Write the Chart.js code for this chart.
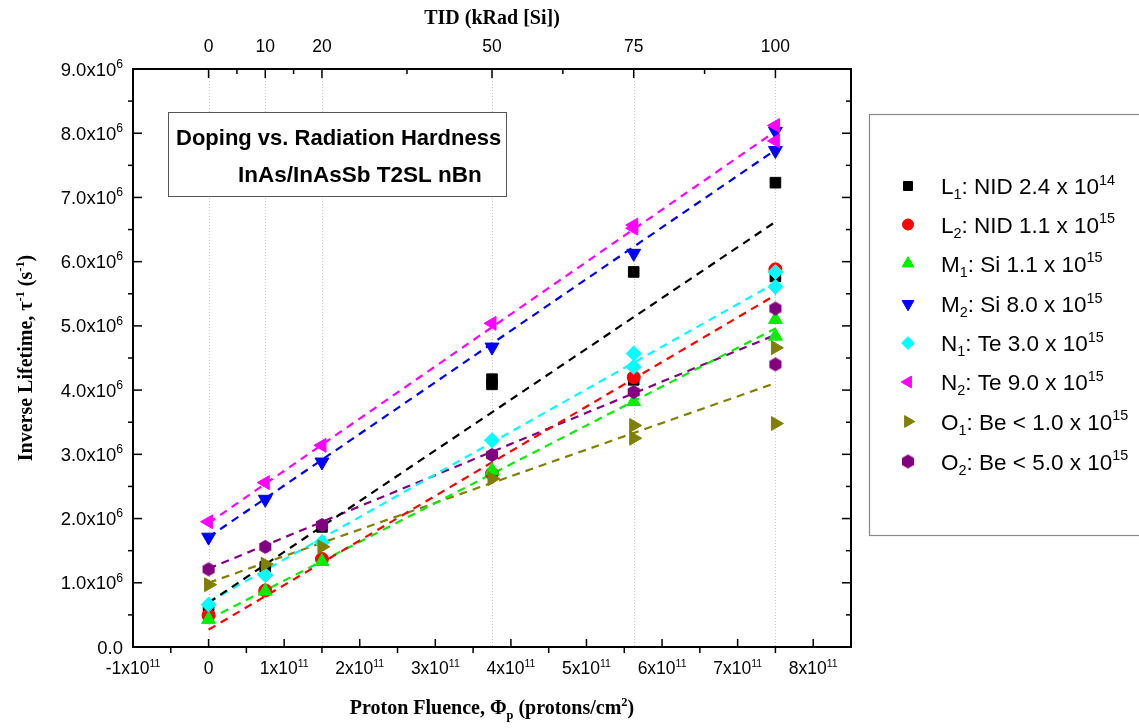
<!DOCTYPE html>
<html>
<head>
<meta charset="utf-8">
<script src="https://cdn.jsdelivr.net/npm/chart.js@4.4.0/dist/chart.umd.min.js"></script>
<style>
  html, body { margin: 0; padding: 0; background: #fff; overflow: hidden; }
  canvas { display: block; }
</style>
</head>
<body>
<canvas id="chart" width="1139" height="728" style="width:1139px;height:728px"></canvas>
<script>
// dose levels (top axis) and the matching proton fluence (bottom axis)
const tidLevels = [0, 10, 20, 50, 75, 100];
const fluenceLevels = [0, 7.5e10, 1.5e11, 3.75e11, 5.625e11, 7.5e11];

// measured inverse lifetimes (s^-1), several samples per dose for some wafers
const l1Tid = [0, 10, 20, 50, 50, 75, 75, 100, 100];
const l1Val = [0.55e6, 1.25e6, 1.87e6, 4.17e6, 4.09e6, 5.84e6, 4.16e6, 7.23e6, 5.77e6];
const l2Tid = [0, 10, 20, 50, 75, 100];
const l2Val = [0.49e6, 0.88e6, 1.37e6, 2.70e6, 4.20e6, 5.88e6];
const m1Tid = [0, 10, 20, 50, 75, 100, 100];
const m1Val = [0.43e6, 0.87e6, 1.33e6, 2.75e6, 3.82e6, 5.10e6, 4.84e6];
const m2Tid = [0, 10, 20, 50, 75, 100, 100];
const m2Val = [1.71e6, 2.30e6, 2.88e6, 4.67e6, 6.13e6, 8.03e6, 7.73e6];
const n1Tid = [0, 10, 20, 50, 75, 75, 100, 100];
const n1Val = [0.66e6, 1.12e6, 1.63e6, 3.22e6, 4.57e6, 4.36e6, 5.84e6, 5.61e6];
const n2Tid = [0, 10, 20, 50, 75, 75, 100, 100];
const n2Val = [1.95e6, 2.56e6, 3.14e6, 5.04e6, 6.57e6, 6.52e6, 8.12e6, 7.88e6];
const o1Tid = [0, 10, 20, 50, 75, 75, 100, 100];
const o1Val = [0.97e6, 1.29e6, 1.56e6, 2.62e6, 3.45e6, 3.25e6, 4.66e6, 3.48e6];
const o2Tid = [0, 10, 20, 50, 75, 100, 100];
const o2Val = [1.21e6, 1.56e6, 1.90e6, 2.99e6, 3.97e6, 5.27e6, 4.40e6];

// linear fit lines, read at TID 0 and TID 100
const fitTid = [0, 100];
const fitL1 = [0.69e6, 6.62e6];
const fitL2 = [0.27e6, 5.48e6];
const fitM1 = [0.43e6, 4.96e6];
const fitM2 = [1.71e6, 7.74e6];
const fitN1 = [0.70e6, 5.67e6];
const fitN2 = [1.93e6, 8.03e6];
const fitO1 = [1.00e6, 4.11e6];
const fitO2 = [1.22e6, 4.86e6];

// legend text ( _{..} subscript, ^{..} superscript )
const seriesLabels = [
  'L_{1}: NID 2.4 x 10^{14}',
  'L_{2}: NID 1.1 x 10^{15}',
  'M_{1}: Si 1.1 x 10^{15}',
  'M_{2}: Si 8.0 x 10^{15}',
  'N_{1}: Te 3.0 x 10^{15}',
  'N_{2}: Te 9.0 x 10^{15}',
  'O_{1}: Be < 1.0 x 10^{15}',
  'O_{2}: Be < 5.0 x 10^{15}'
];

// tick labels
const xTickValues = [-1e11, 0, 1e11, 2e11, 3e11, 4e11, 5e11, 6e11, 7e11, 8e11];
const xTickLabels = ['-1x10^{11}', '0', '1x10^{11}', '2x10^{11}', '3x10^{11}', '4x10^{11}',
  '5x10^{11}', '6x10^{11}', '7x10^{11}', '8x10^{11}'];
const yTickValues = [0, 1e6, 2e6, 3e6, 4e6, 5e6, 6e6, 7e6, 8e6, 9e6];
const yTickLabels = ['0.0', '1.0x10^{6}', '2.0x10^{6}', '3.0x10^{6}', '4.0x10^{6}', '5.0x10^{6}',
  '6.0x10^{6}', '7.0x10^{6}', '8.0x10^{6}', '9.0x10^{6}'];
const tidTicks = [0, 10, 20, 50, 75, 100];
const tidMinor = [5, 15, 35, 62.5, 87.5];

const SANS = '"Liberation Sans", Arial, sans-serif';
const SERIF = '"Liberation Serif", "Times New Roman", serif';

// hexagon marker for the O2 series
function hexMarker(color, r) {
  const c = document.createElement('canvas');
  c.width = c.height = r * 2 + 2;
  const g = c.getContext('2d');
  g.fillStyle = color;
  g.beginPath();
  for (let i = 0; i < 6; i++) {
    const a = Math.PI / 6 + i * Math.PI / 3;
    const px = r + 1 + r * Math.cos(a), py = r + 1 + r * Math.sin(a);
    i ? g.lineTo(px, py) : g.moveTo(px, py);
  }
  g.closePath();
  g.fill();
  return c;
}

const toFluence = t => fluenceLevels[tidLevels.indexOf(t)];
const pts = (tids, vals) => tids.map((t, i) => ({ x: toFluence(t), y: vals[i] }));

const markerSets = [
  { tid: l1Tid, val: l1Val, fit: fitL1, color: '#000000', style: 'rect', rot: 0, r: 7.5 },
  { tid: l2Tid, val: l2Val, fit: fitL2, color: '#ff0000', style: 'circle', rot: 0, r: 6.5 },
  { tid: m1Tid, val: m1Val, fit: fitM1, color: '#00ee00', style: 'triangle', rot: 0, r: 8 },
  { tid: m2Tid, val: m2Val, fit: fitM2, color: '#0000ff', style: 'triangle', rot: 180, r: 8 },
  { tid: n1Tid, val: n1Val, fit: fitN1, color: '#00ffff', style: 'rectRot', rot: 0, r: 7.5 },
  { tid: n2Tid, val: n2Val, fit: fitN2, color: '#ff00ff', style: 'triangle', rot: 270, r: 8 },
  { tid: o1Tid, val: o1Val, fit: fitO1, color: '#808000', style: 'triangle', rot: 90, r: 8 },
  { tid: o2Tid, val: o2Val, fit: fitO2, color: '#800080', style: hexMarker('#800080', 7), rot: 0, r: 7 }
];

const datasets = [];
markerSets.forEach((s, i) => {
  datasets.push({
    label: seriesLabels[i],
    data: pts(s.tid, s.val),
    showLine: false,
    pointStyle: s.style,
    rotation: s.rot,
    pointRadius: s.r,
    backgroundColor: s.color,
    borderColor: s.color,
    borderWidth: 1,
    order: 10 - i
  });
});
markerSets.forEach((s, i) => {
  datasets.push({
    label: 'fit ' + i,
    data: pts(fitTid, s.fit),
    showLine: true,
    pointRadius: 0,
    borderColor: s.color,
    borderWidth: 2.2,
    borderDash: [8, 6],
    fill: false,
    order: 20
  });
});

// --- small rich text helper for sub/superscripts ---
function parseRich(s) {
  const out = [];
  const re = /([\^_])\{([^}]*)\}/g;
  let last = 0, m;
  while ((m = re.exec(s))) {
    if (m.index > last) out.push({ t: s.slice(last, m.index), k: 0 });
    out.push({ t: m[2], k: m[1] === '^' ? 1 : -1 });
    last = re.lastIndex;
  }
  if (last < s.length) out.push({ t: s.slice(last), k: 0 });
  return out;
}

function drawRich(ctx, s, x, y, size, opts) {
  const o = Object.assign({ weight: 'normal', fam: SANS, align: 'left', ratio: 0.62 }, opts);
  const parts = parseRich(s);
  let w = 0;
  parts.forEach(p => {
    ctx.font = `${o.weight} ${p.k ? size * o.ratio : size}px ${o.fam}`;
    w += ctx.measureText(p.t).width;
  });
  let cx = o.align === 'center' ? x - w / 2 : o.align === 'right' ? x - w : x;
  ctx.fillStyle = '#000';
  ctx.textAlign = 'left';
  ctx.textBaseline = 'alphabetic';
  parts.forEach(p => {
    ctx.font = `${o.weight} ${p.k ? size * o.ratio : size}px ${o.fam}`;
    const dy = p.k === 1 ? -size * 0.42 : p.k === -1 ? size * 0.24 : 0;
    ctx.fillText(p.t, cx, y + dy);
    cx += ctx.measureText(p.t).width;
  });
}

const axesPlugin = {
  id: 'originAxes',
  beforeDatasetsDraw(chart) {
    const { ctx, chartArea: a, scales } = chart;
    ctx.save();
    ctx.strokeStyle = '#c8c8c8';
    ctx.lineWidth = 1;
    ctx.setLineDash([1, 2]);
    tidTicks.forEach(t => {
      const px = Math.round(scales.x2.getPixelForValue(t)) + 0.5;
      ctx.beginPath();
      ctx.moveTo(px, a.top);
      ctx.lineTo(px, a.bottom);
      ctx.stroke();
    });
    ctx.restore();
  },
  afterDatasetsDraw(chart) {
    const { ctx, chartArea: a, scales } = chart;
    const x = scales.x, y = scales.y, x2 = scales.x2;
    ctx.save();
    ctx.strokeStyle = '#000';
    ctx.lineWidth = 2;
    ctx.strokeRect(a.left, a.top, a.right - a.left, a.bottom - a.top);

    ctx.lineWidth = 1.5;
    const line = (x0, y0, x1, y1) => { ctx.beginPath(); ctx.moveTo(x0, y0); ctx.lineTo(x1, y1); ctx.stroke(); };

    // bottom axis: major ticks inward, minor ticks outward
    xTickValues.forEach((v, i) => {
      const px = x.getPixelForValue(v);
      line(px, a.bottom, px, a.bottom - 8);
      const mv = v + 0.5e11;
      if (mv < x.max) {
        const mp = x.getPixelForValue(mv);
        line(mp, a.bottom, mp, a.bottom + 6);
      }
      drawRich(ctx, xTickLabels[i], px, a.bottom + 27, 17.5, { align: 'center', ratio: 0.6 });
    });

    // left and right axes
    yTickValues.forEach((v, i) => {
      const py = y.getPixelForValue(v);
      line(a.left, py, a.left + 9, py);
      line(a.right, py, a.right - 9, py);
      if (v + 0.5e6 < y.max) {
        const mp = y.getPixelForValue(v + 0.5e6);
        line(a.left, mp, a.left - 5, mp);
        line(a.right, mp, a.right - 5, mp);
      }
      drawRich(ctx, yTickLabels[i], a.left - 10, py + 6.5, 18.5, { align: 'right', ratio: 0.66 });
    });

    // top TID axis
    tidTicks.forEach(t => {
      const px = x2.getPixelForValue(t);
      line(px, a.top, px, a.top + 9);
      drawRich(ctx, String(t), px, a.top - 17, 17.5, { align: 'center' });
    });
    tidMinor.forEach(t => {
      const px = x2.getPixelForValue(t);
      line(px, a.top, px, a.top + 5);
    });

    // axis titles
    const midX = (a.left + a.right) / 2;
    drawRich(ctx, 'Proton Fluence, \u03A6_{p} (protons/cm^{2})', midX, 714, 20, { weight: 'bold', fam: SERIF, align: 'center' });
    drawRich(ctx, 'TID (kRad [Si])', midX, 24, 20, { weight: 'bold', fam: SERIF, align: 'center' });
    ctx.save();
    ctx.translate(32, (a.top + a.bottom) / 2);
    ctx.rotate(-Math.PI / 2);
    drawRich(ctx, 'Inverse Lifetime, \u03C4^{-1} (s^{-1})', 0, 0, 20, { weight: 'bold', fam: SERIF, align: 'center' });
    ctx.restore();

    // title box
    ctx.fillStyle = '#fff';
    ctx.fillRect(168.5, 112.5, 338, 84);
    ctx.strokeStyle = '#555';
    ctx.lineWidth = 1;
    ctx.strokeRect(168.5, 112.5, 338, 84);
    drawRich(ctx, 'Doping vs. Radiation Hardness', 176, 145, 22, { weight: 'bold' });
    drawRich(ctx, 'InAs/InAsSb T2SL nBn', 238, 182, 22.5, { weight: 'bold' });

    // legend box
    ctx.strokeStyle = '#888';
    ctx.lineWidth = 1.2;
    ctx.strokeRect(869.5, 114.5, 290, 421);
    const rowY = [186, 224.5, 263.5, 304, 343, 382, 421.5, 461.5];
    markerSets.forEach((s, i) => {
      ctx.fillStyle = s.color;
      ctx.strokeStyle = s.color;
      ctx.lineWidth = 1;
      ctx.setLineDash([]);
      Chart.helpers.drawPoint(ctx, { pointStyle: s.style, rotation: s.rot, radius: s.r * 0.85, borderWidth: 1 }, 908, rowY[i]);
      drawRich(ctx, seriesLabels[i], 941, rowY[i] + 8, 22.5, { ratio: 0.64 });
    });
    ctx.restore();
  }
};

new Chart(document.getElementById('chart'), {
  type: 'scatter',
  data: { datasets },
  options: {
    responsive: false,
    animation: false,
    layout: { padding: { left: 133, right: 288, top: 69, bottom: 81 } },
    plugins: { legend: { display: false }, tooltip: { enabled: false } },
    scales: {
      x: { type: 'linear', display: false, min: -1e11, max: 8.5e11 },
      x2: { type: 'linear', display: false, position: 'top', min: -1e11 / 7.5e9, max: 8.5e11 / 7.5e9 },
      y: { type: 'linear', display: false, min: 0, max: 9e6 }
    }
  },
  plugins: [axesPlugin]
});
</script>
</body>
</html>
